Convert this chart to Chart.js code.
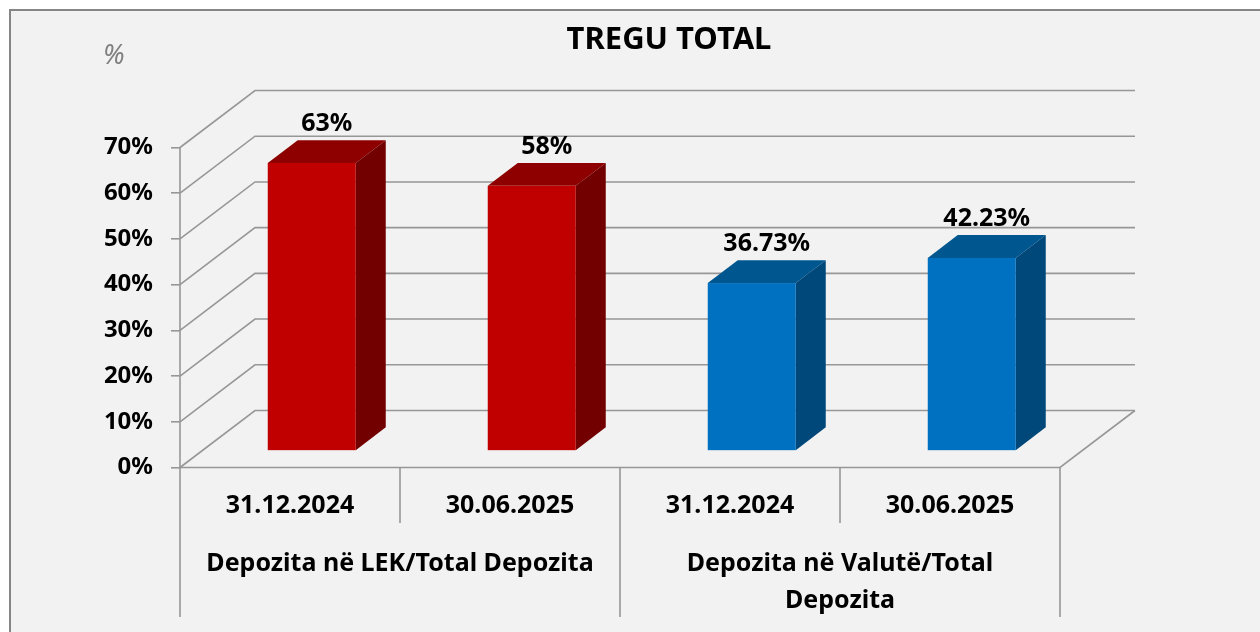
<!DOCTYPE html>
<html>
<head>
<meta charset="utf-8">
<script src="https://cdn.jsdelivr.net/npm/chart.js@4.4.1/dist/chart.umd.min.js"></script>
<style>
  html, body { margin: 0; padding: 0; background: #fff; }
  #wrap { width: 1260px; height: 632px; }
</style>
</head>
<body>
<div id="wrap"><canvas id="c" width="1260" height="632"></canvas></div>
<script>
// data
const dates = ["31.12.2024", "30.06.2025", "31.12.2024", "30.06.2025"];
const groups = [
  ["Depozita në LEK/Total Depozita"],
  ["Depozita në Valutë/Total", "Depozita"],
];
const shares = [63, 58, 36.73, 42.23];
const shareLabels = ["63%", "58%", "36.73%", "42.23%"];
const yTicks = [0, 10, 20, 30, 40, 50, 60, 70];

const FONT = "'Noto Sans', sans-serif";
const GRID = "#979797";
const faceColors = ["#C00000", "#C00000", "#0070C0", "#0070C0"];
const topColors = ["#8E0000", "#8E0000", "#00568F", "#00568F"];
const sideColors = ["#730000", "#730000", "#00487A", "#00487A"];

// depth of the 3d box and where the bars sit inside it
const DX = 75, DY = -57;
const BAR_FRONT = 0.29, BAR_BACK = 0.69;

function poly(ctx, pts, fill) {
  ctx.beginPath();
  ctx.moveTo(pts[0][0], pts[0][1]);
  for (let i = 1; i < pts.length; i++) ctx.lineTo(pts[i][0], pts[i][1]);
  ctx.closePath();
  ctx.fillStyle = fill;
  ctx.fill();
}

const box3d = {
  id: "box3d",
  beforeDraw(chart) {
    const { ctx, width, height } = chart;
    ctx.save();
    ctx.fillStyle = "#ffffff";
    ctx.fillRect(0, 0, width, height);
    ctx.fillStyle = "#F2F2F2";
    ctx.fillRect(10, 10, width, height);
    ctx.strokeStyle = "#868686";
    ctx.lineWidth = 2;
    ctx.beginPath();
    ctx.moveTo(10, height + 5);
    ctx.lineTo(10, 10);
    ctx.lineTo(width + 5, 10);
    ctx.stroke();

    ctx.fillStyle = "#000";
    ctx.font = "bold 31px " + FONT;
    ctx.textAlign = "center";
    ctx.textBaseline = "alphabetic";
    ctx.fillText("TREGU TOTAL", 669, 49);

    ctx.fillStyle = "#808080";
    ctx.font = "italic 27px " + FONT;
    ctx.textAlign = "left";
    ctx.fillText("%", 103, 64);
    ctx.restore();
  },
  beforeDatasetsDraw(chart) {
    const { ctx } = chart;
    const x = chart.scales.x, y = chart.scales.y;
    const L = x.left, R = x.right, B = y.bottom;
    ctx.save();
    ctx.strokeStyle = GRID;
    ctx.lineWidth = 1.6;
    ctx.lineJoin = "miter";
    yTicks.forEach((v) => {
      const py = y.getPixelForValue(v);
      ctx.beginPath();
      ctx.moveTo(L, py);
      ctx.lineTo(L + DX, py + DY);
      ctx.lineTo(R + DX, py + DY);
      ctx.stroke();
    });
    // floor front + right edge
    ctx.beginPath();
    ctx.moveTo(L, B);
    ctx.lineTo(R, B);
    ctx.lineTo(R + DX, B + DY);
    ctx.stroke();

    // category separators
    const step = x.getPixelForValue(1) - x.getPixelForValue(0);
    const first = x.getPixelForValue(0) - step / 2;
    ctx.beginPath();
    for (let i = 0; i <= dates.length; i++) {
      const px = first + i * step;
      ctx.moveTo(px, i === 0 ? y.top : B);
      ctx.lineTo(px, i % 2 === 0 ? 617 : 523);
    }
    ctx.stroke();

    // group labels
    ctx.fillStyle = "#000";
    ctx.font = "bold 25px " + FONT;
    ctx.textAlign = "center";
    ctx.textBaseline = "alphabetic";
    groups.forEach((lines, g) => {
      const cx = first + (2 * g + 1) * step;
      lines.forEach((t, k) => ctx.fillText(t, cx, 571 + k * 37));
    });
    ctx.restore();
  },
  afterDatasetsDraw(chart) {
    const { ctx } = chart;
    const meta = chart.getDatasetMeta(0);
    const fx = DX * BAR_FRONT, fy = DY * BAR_FRONT;
    const sx = DX * (BAR_BACK - BAR_FRONT), sy = DY * (BAR_BACK - BAR_FRONT);
    ctx.save();
    meta.data.forEach((bar, i) => {
      const x0 = bar.x - bar.width / 2 + fx, x1 = bar.x + bar.width / 2 + fx;
      const yt = bar.y + fy, yb = bar.base + fy;
      poly(ctx, [[x0, yt], [x0 + sx, yt + sy], [x1 + sx, yt + sy], [x1, yt]], topColors[i]);
      poly(ctx, [[x1, yt], [x1 + sx, yt + sy], [x1 + sx, yb + sy], [x1, yb]], sideColors[i]);
      ctx.fillStyle = faceColors[i];
      ctx.fillRect(x0, yt, x1 - x0, yb - yt);

      ctx.fillStyle = "#000";
      ctx.font = "bold 25px " + FONT;
      ctx.textAlign = "center";
      ctx.textBaseline = "alphabetic";
      ctx.fillText(shareLabels[i], (x0 + x1) / 2 + sx / 2, yt + sy - 9);
    });
    ctx.restore();
  },
};

new Chart(document.getElementById("c"), {
  type: "bar",
  data: {
    labels: dates,
    datasets: [{
      data: shares,
      backgroundColor: "rgba(0,0,0,0)",
      borderWidth: 0,
      barPercentage: 0.4,
      categoryPercentage: 1.0,
    }],
  },
  options: {
    responsive: false,
    animation: false,
    devicePixelRatio: 1,
    layout: { padding: { left: 0, right: 200, top: 147.5, bottom: 0 } },
    plugins: {
      legend: { display: false },
      tooltip: { enabled: false },
      title: { display: false },
    },
    scales: {
      y: {
        min: 0,
        max: 70,
        afterFit: (s) => { s.width = 180; },
        ticks: {
          stepSize: 10,
          padding: 18,
          color: "#000",
          font: { family: FONT, size: 24, weight: "bold" },
          callback: (v) => v + "%",
        },
        grid: { drawOnChartArea: false, color: GRID, lineWidth: 1.6, tickLength: 9 },
        border: { display: false },
      },
      x: {
        afterFit: (s) => { s.height = 164.5; },
        ticks: {
          padding: 23,
          color: "#000",
          font: { family: FONT, size: 25, weight: "bold" },
        },
        grid: { display: false, drawTicks: false },
        border: { display: false },
      },
    },
  },
  plugins: [box3d],
});
</script>
</body>
</html>
